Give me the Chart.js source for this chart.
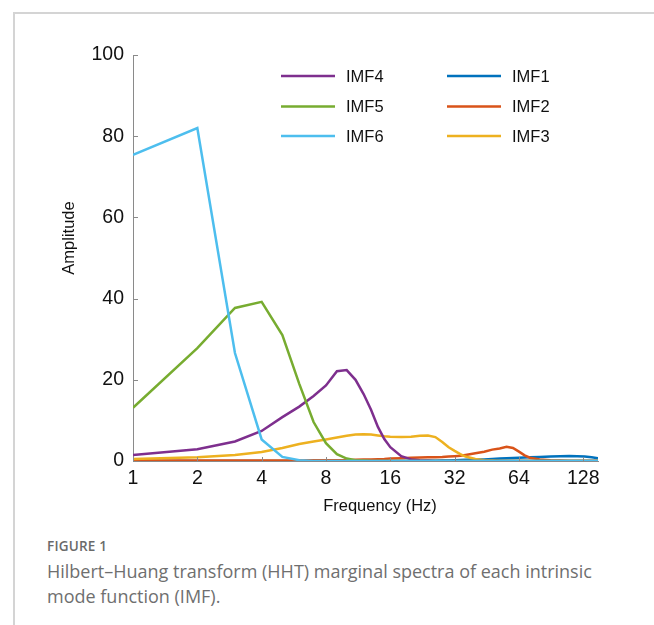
<!DOCTYPE html>
<html>
<head>
<meta charset="utf-8">
<script src="https://cdn.jsdelivr.net/npm/chart.js@4"></script>
<style>
  html, body { margin: 0; padding: 0; background: #fff; }
  body { width: 654px; height: 625px; position: relative; overflow: hidden; }
  #frame { position: absolute; left: 13px; top: 12px; right: -4px; bottom: -4px;
           border-top: 2px solid #d4d4d4; border-left: 2px solid #d4d4d4; }
  #wrap { position: absolute; left: 0; top: 0; width: 654px; height: 530px; }
  #figlabel { position: absolute; left: 47px; top: 537px; font: 600 13.5px "Open Sans", sans-serif;
              color: #6a6a6a; letter-spacing: 0.2px; }
  #caption { position: absolute; left: 47px; top: 559px; width: 575px; font: 18px/25px "Open Sans", sans-serif;
             color: #6f6f6f; }
</style>
</head>
<body>
<div id="frame"></div>
<div id="wrap"><canvas id="hht_chart" width="654" height="530"></canvas></div>
<div id="figlabel">FIGURE 1</div>
<div id="caption">Hilbert–Huang transform (HHT) marginal spectra of each intrinsic mode function (IMF).</div>
<script>
// frequency bins (Hz)
const freq = [1, 2, 3, 4, 5, 6, 7, 8, 9, 10, 11, 12, 13, 14, 15, 16, 18, 20, 22, 24, 26, 28, 30, 32, 34, 36,
              40, 44, 48, 52, 56, 60, 64, 68, 72, 80, 90, 100, 110, 120, 130, 140, 150];

const imf1 = [0, 0, 0, 0, 0, 0, 0, 0, 0, 0, 0, 0, 0, 0, 0, 0, 0, 0, 0, 0.05, 0.05, 0.1, 0.15, 0.2, 0.25, 0.3,
              0.35, 0.4, 0.5, 0.6, 0.7, 0.75, 0.8, 0.85, 0.9, 1.0, 1.1, 1.2, 1.25, 1.2, 1.1, 0.9, 0.7];
const imf2 = [0.1, 0.1, 0.1, 0.1, 0.1, 0.1, 0.2, 0.2, 0.2, 0.2, 0.3, 0.35, 0.4, 0.45, 0.5, 0.6, 0.7, 0.8, 0.85, 0.9, 0.95, 1.0, 1.1, 1.2, 1.3, 1.5,
              1.9, 2.3, 2.8, 3.1, 3.5, 3.2, 2.3, 1.4, 0.8, 0.4, 0.2, 0.1, 0, 0, 0, 0, 0];
const imf3 = [0.5, 0.9, 1.5, 2.2, 3.2, 4.2, 4.8, 5.3, 5.8, 6.2, 6.5, 6.6, 6.5, 6.3, 6.1, 6.0, 5.9, 6.0, 6.2, 6.3, 5.9, 4.7, 3.4, 2.5, 1.7, 1.1,
              0.5, 0.2, 0.1, 0, 0, 0, 0, 0, 0, 0, 0, 0, 0, 0, 0, 0, 0];
const imf4 = [1.5, 2.9, 4.8, 7.4, 10.8, 13.4, 16, 18.6, 22.1, 22.4, 20, 16.5, 12.6, 8.4, 5.4, 3.4, 1.2, 0.4, 0.2, 0.1, 0, 0, 0, 0, 0, 0,
              0, 0, 0, 0, 0, 0, 0, 0, 0, 0, 0, 0, 0, 0, 0, 0, 0];
const imf5 = [13.1, 27.8, 37.7, 39.2, 31, 19, 9.6, 4.4, 1.7, 0.6, 0.2, 0.1, 0, 0, 0, 0, 0, 0, 0, 0, 0, 0, 0, 0, 0, 0,
              0, 0, 0, 0, 0, 0, 0, 0, 0, 0, 0, 0, 0, 0, 0, 0, 0];
const imf6 = [75.4, 82, 26.6, 5.3, 1.0, 0.2, 0, 0, 0, 0, 0, 0, 0, 0, 0, 0, 0, 0, 0, 0, 0, 0, 0, 0, 0, 0,
              0, 0, 0, 0, 0, 0, 0, 0, 0, 0, 0, 0, 0, 0, 0, 0, 0];

const xTicks = [1, 2, 4, 8, 16, 32, 64, 128];
const yTicks = [0, 20, 40, 60, 80, 100];

const colors = {
    IMF1: '#0072BD', IMF2: '#D95319', IMF3: '#EDB120',
    IMF4: '#7E2F8E', IMF5: '#77AC30', IMF6: '#4DBEEE'
};

// legend layout, two columns like the figure
const legendCols = [['IMF4', 'IMF5', 'IMF6'], ['IMF1', 'IMF2', 'IMF3']];

const toPoints = arr => arr.map((v, i) => ({ x: freq[i], y: v }));

const series = { IMF1: imf1, IMF2: imf2, IMF3: imf3, IMF4: imf4, IMF5: imf5, IMF6: imf6 };
// first dataset ends up on top, IMF6 lies over the rest along the bottom
const drawOrder = ['IMF6', 'IMF5', 'IMF4', 'IMF3', 'IMF2', 'IMF1'];

const AXIS_GREY = '#8a8a8a';
const FONT = '"Liberation Sans", Arial, sans-serif';

const extras = {
    id: 'extras',
    afterDraw(chart) {
        const ctx = chart.ctx;
        const xs = chart.scales.x, ys = chart.scales.y;
        const area = chart.chartArea;
        ctx.save();
        // inward tick marks
        ctx.strokeStyle = AXIS_GREY;
        ctx.lineWidth = 1;
        ctx.beginPath();
        xTicks.forEach(v => {
            const px = Math.round(xs.getPixelForValue(v)) + 0.5;
            ctx.moveTo(px, area.bottom);
            ctx.lineTo(px, area.bottom - 4);
        });
        yTicks.forEach(v => {
            const py = Math.round(ys.getPixelForValue(v)) + 0.5;
            ctx.moveTo(area.left, py);
            ctx.lineTo(area.left + 5, py);
        });
        ctx.stroke();

        // axis titles
        ctx.fillStyle = '#111';
        ctx.font = '16.5px ' + FONT;
        ctx.textAlign = 'center';
        ctx.textBaseline = 'middle';
        ctx.fillText('Frequency (Hz)', 380, 506);
        ctx.translate(69, 238);
        ctx.rotate(-Math.PI / 2);
        ctx.fillText('Amplitude', 0, 0);
        ctx.restore();

        // legend
        ctx.save();
        ctx.font = '16.5px ' + FONT;
        ctx.textAlign = 'left';
        ctx.textBaseline = 'middle';
        const colX = [281, 447];
        const rowY = [76, 106.5, 136];
        legendCols.forEach((col, c) => {
            col.forEach((name, r) => {
                const y = rowY[r];
                ctx.strokeStyle = colors[name];
                ctx.lineWidth = 2.5;
                ctx.beginPath();
                ctx.moveTo(colX[c], y);
                ctx.lineTo(colX[c] + 54, y);
                ctx.stroke();
                ctx.fillStyle = '#111';
                ctx.fillText(name, colX[c] + 65, y + 1);
            });
        });
        ctx.restore();
    }
};

const ctx = document.getElementById('hht_chart').getContext('2d');

new Chart(ctx, {
    type: 'line',
    data: {
        datasets: drawOrder.map(name => ({
            label: name,
            data: toPoints(series[name]),
            borderColor: colors[name],
            backgroundColor: colors[name],
            borderWidth: 2.5,
            pointRadius: 0,
            tension: 0,
            fill: false
        }))
    },
    options: {
        responsive: false,
        animation: false,
        layout: { padding: { top: 55, right: 56, left: 0, bottom: 0 } },
        plugins: {
            legend: { display: false },
            tooltip: { enabled: false }
        },
        scales: {
            x: {
                type: 'logarithmic',
                min: 1,
                max: 150,
                afterBuildTicks: scale => { scale.ticks = xTicks.map(v => ({ value: v })); },
                afterFit: scale => { scale.height = 69; },
                grid: { display: false, drawTicks: false },
                border: { display: true, color: AXIS_GREY, width: 1 },
                ticks: {
                    autoSkip: false,
                    maxRotation: 0,
                    padding: 6,
                    color: '#111',
                    font: { family: FONT, size: 19.5 },
                    callback: v => String(v)
                }
            },
            y: {
                min: 0,
                max: 100,
                afterBuildTicks: scale => { scale.ticks = yTicks.map(v => ({ value: v })); },
                afterFit: scale => { scale.width = 133; },
                grid: { display: false, drawTicks: false },
                border: { display: true, color: AXIS_GREY, width: 1 },
                ticks: {
                    padding: 9,
                    color: '#111',
                    font: { family: FONT, size: 19.5 }
                }
            }
        }
    },
    plugins: [extras]
});
</script>
</body>
</html>
